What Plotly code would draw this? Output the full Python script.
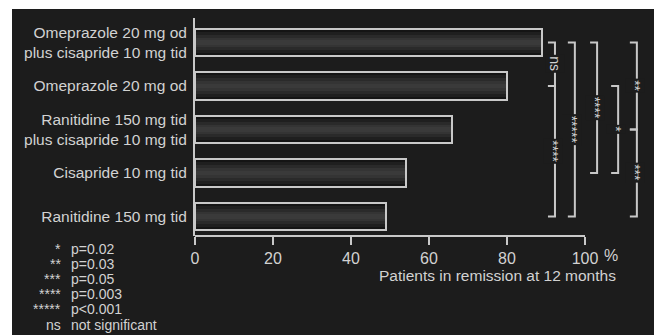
import plotly.graph_objects as go

# ---------------- data ----------------
categories = [
    "Omeprazole 20 mg od<br>plus cisapride 10 mg tid",
    "Omeprazole 20 mg od",
    "Ranitidine 150 mg tid<br>plus cisapride 10 mg tid",
    "Cisapride 10 mg tid",
    "Ranitidine 150 mg tid",
]
remission = [89, 80, 66, 54, 49]
x_tickvals = [0, 20, 40, 60, 80, 100]
x_ticktext = ["0", "20", "40", "60", "80", "100"]
x_title = "Patients in remission at 12 months"
# significance comparisons: (from bar, to bar, label)
comparisons = [(0, 1, "ns"), (1, 4, "****"), (0, 4, "*****"), (0, 3, "****"),
               (1, 3, "*"), (0, 2, "**"), (2, 4, "***")]
legend_symbols = ["*", "**", "***", "****", "*****", "ns"]
legend_texts = ["p=0.02", "p=0.03", "p=0.05", "p=0.003", "p<0.001", "not significant"]

# ---------------- style ----------------
W, H = 660, 335
L, R, T, B = 195, 6, 18, 99
PW, PH = W - L - R, H - T - B
BG = "#1c1c1c"
FG = "#d2d2d2"
LINE = "#c8c8c8"
FONT = "Liberation Sans, Arial, sans-serif"
bracket_cols = [92.3, 92.3, 97.4, 103.1, 108.5, 113.3, 113.3]
tick_len = 1.8
ypos = list(range(len(categories)))


def px_x(px):
    return (px - L) / PW


def px_y(py):
    return (T + PH - py) / PH


fig = go.Figure()

# cylinder-like shading with stacked bars
for w, c in [(0.64, "#141414"), (0.50, "#1f1f1f"), (0.36, "#2a2a2a"), (0.22, "#343434"), (0.10, "#3a3a3a")]:
    fig.add_trace(go.Bar(x=remission, y=ypos, orientation="h", width=w,
                         marker=dict(color=c, line=dict(width=0)),
                         hoverinfo="skip", showlegend=False))
# outline
fig.add_trace(go.Bar(x=remission, y=ypos, orientation="h", width=0.64,
                     marker=dict(color="rgba(0,0,0,0)", line=dict(color=LINE, width=2)),
                     showlegend=False))

shapes = []
# dark background panel
shapes.append(dict(type="rect", xref="paper", yref="paper",
                   x0=px_x(12), x1=px_x(654), y0=px_y(9), y1=px_y(340),
                   fillcolor=BG, line=dict(width=0), layer="below"))
# x axis line (only up to 100)
shapes.append(dict(type="line", xref="x", yref="paper", x0=0, x1=100, y0=0, y1=0,
                   line=dict(color=LINE, width=2)))

annotations = []
for (a, b, lab), col in zip(comparisons, bracket_cols):
    shapes.append(dict(type="path", xref="x", yref="y",
                       path=f"M {col - tick_len} {a} L {col} {a} L {col} {b} L {col - tick_len} {b}",
                       line=dict(color=LINE, width=2)))
    annotations.append(dict(x=col, y=(a + b) / 2, xref="x", yref="y", text=lab,
                            showarrow=False, textangle=90, bgcolor=BG, borderpad=1,
                            xanchor="center", yanchor="middle",
                            xshift=0 if lab == "ns" else -2,
                            font=dict(family=FONT, size=14, color=FG)))

# percent sign after 100
annotations.append(dict(x=px_x(611), y=px_y(255), xref="paper", yref="paper", text="%",
                        showarrow=False, xanchor="center", yanchor="middle",
                        font=dict(family=FONT, size=16, color=FG)))
# axis title
annotations.append(dict(x=px_x(618), y=px_y(275), xref="paper", yref="paper", text=x_title,
                        showarrow=False, xanchor="right", yanchor="middle",
                        font=dict(family=FONT, size=15.5, color=FG)))
# significance key
for i, (s, t) in enumerate(zip(legend_symbols, legend_texts)):
    yy = px_y(248.5 + i * 15.2)
    annotations.append(dict(x=px_x(63), y=yy, xref="paper", yref="paper", text=s,
                            showarrow=False, xanchor="right", yanchor="middle",
                            font=dict(family=FONT, size=14, color=FG)))
    annotations.append(dict(x=px_x(69), y=yy, xref="paper", yref="paper", text=t,
                            showarrow=False, xanchor="left", yanchor="middle",
                            font=dict(family=FONT, size=14, color=FG)))

fig.update_layout(
    width=W, height=H,
    margin=dict(l=L, r=R, t=T, b=B, pad=0),
    paper_bgcolor="white", plot_bgcolor="rgba(0,0,0,0)",
    barmode="overlay", bargap=0,
    shapes=shapes, annotations=annotations,
    font=dict(family=FONT, color=FG),
    xaxis=dict(range=[0, PW / 3.9], tickvals=x_tickvals, ticktext=x_ticktext,
               ticks="outside", ticklen=8, tickwidth=2, tickcolor=LINE,
               showline=False, showgrid=False, zeroline=False,
               tickfont=dict(family=FONT, size=16, color=FG)),
    yaxis=dict(range=[4.448, -0.563], tickvals=ypos, ticktext=categories,
               showline=True, linecolor=LINE, linewidth=2, ticks="",
               ticklabelstandoff=3,
               showgrid=False, zeroline=False,
               tickfont=dict(family=FONT, size=15.5, color=FG)),
)

fig.write_html("out.html",
               config={"displayModeBar": False},
               post_script="document.body.style.margin='0px';document.body.style.overflow='hidden';")
